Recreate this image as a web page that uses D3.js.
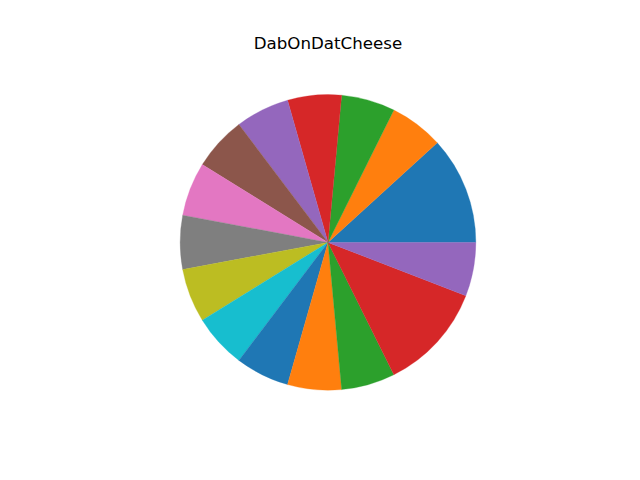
<!DOCTYPE html>
<html>
<head>
<meta charset="utf-8">
<script src="https://cdn.jsdelivr.net/npm/d3@7"></script>
<style>
html, body { margin: 0; padding: 0; background: #ffffff; }
svg { display: block; }
</style>
</head>
<body>
<svg id="chart" width="640" height="480"></svg>
<script>
const title = "DabOnDatCheese";
const categories = ["A","B","C","D","E","F","G","H","I","J","K","L","M","N","O"];
const values = [2, 1, 1, 1, 1, 1, 1, 1, 1, 1, 1, 1, 1, 2, 1];
const palette = ["#1f77b4","#ff7f0e","#2ca02c","#d62728","#9467bd","#8c564b","#e377c2","#7f7f7f","#bcbd22","#17becf"];

const W = 640, H = 480;
const axLeft = 0.125 * W, axRight = 0.9 * W;
const axTop = (1 - 0.88) * H, axBottom = (1 - 0.11) * H;
const cx = (axLeft + axRight) / 2;
const cy = (axTop + axBottom) / 2;

const svg = d3.select("#chart");

// data limits -1.25..1.25 with equal aspect
const scaleR = d3.scaleLinear().domain([0, 2.5]).range([0, axBottom - axTop]);
const radius = scaleR(1);

const color = d3.scaleOrdinal().domain(d3.range(categories.length)).range(palette);

// matplotlib: start at 3 o'clock, counterclockwise
const pie = d3.pie()
  .sort(null)
  .value(d => d.value)
  .startAngle(Math.PI / 2)
  .endAngle(Math.PI / 2 - 2 * Math.PI);

const data = categories.map((c, i) => ({ name: c, value: values[i], i }));
const arc = d3.arc().innerRadius(0).outerRadius(radius);

svg.append("g")
  .attr("transform", `translate(${cx},${cy})`)
  .selectAll("path")
  .data(pie(data))
  .join("path")
  .attr("d", arc)
  .attr("fill", d => color(d.data.i))
  .attr("stroke", d => color(d.data.i))
  .attr("stroke-width", 0.3);

svg.append("text")
  .attr("x", cx)
  .attr("y", axTop - 8.3)
  .attr("text-anchor", "middle")
  .attr("font-family", "DejaVu Sans")
  .attr("font-size", "16.67px")
  .attr("fill", "#000")
  .text(title);
</script>
</body>
</html>
